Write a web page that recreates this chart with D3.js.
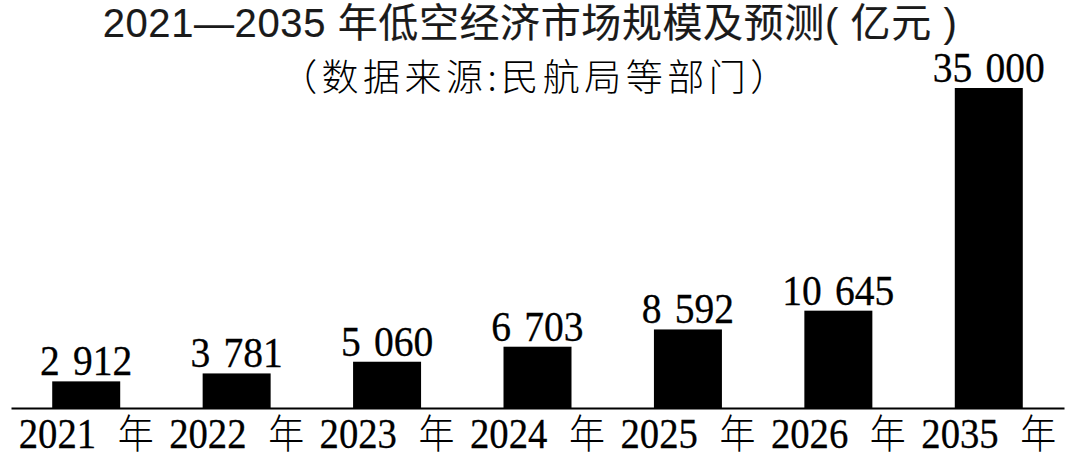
<!DOCTYPE html>
<html>
<head>
<meta charset="utf-8">
<script src="https://cdn.jsdelivr.net/npm/d3@7"></script>
<style>
  html, body { margin: 0; padding: 0; background: #fff; }
</style>
</head>
<body>
<div id="chart"></div>
<script>
const years = ['2021', '2022', '2023', '2024', '2025', '2026', '2035'];
const values = [2912, 3781, 5060, 6703, 8592, 10645, 35000];
const yearSuffix = '年';
const title = '2021—2035 年低空经济市场规模及预测( 亿元 )';
const subtitle = '（数据来源:民航局等部门）';

const draw = () => {
  const data = years.map((year, i) => ({year: year, value: values[i]}));
  const width = 1080;
  const height = 459;
  const base = 408;
  const format = d3.formatLocale({decimal: '.', thousands: '\u2004', grouping: [3], currency: ['', '']}).format(',d');

  const svg = d3.select('#chart')
    .append('svg')
    .attr('width', width)
    .attr('height', height)
    .style('display', 'block')
    .style('background', '#fff');

  const x = d3.scaleBand()
    .domain(years)
    .range([11, 1064])
    .paddingInner(0.548)
    .paddingOuter(0.274);
  const y = d3.scaleLinear()
    .domain([0, 35000])
    .range([base, 88]);

  svg.append('text')
    .attr('x', 530)
    .attr('y', 37)
    .attr('text-anchor', 'middle')
    .attr('font-family', '"Liberation Sans", "Noto Sans CJK SC", sans-serif')
    .attr('font-size', 40)
    .attr('letter-spacing', 0.6)
    .attr('fill', '#1a1a1a')
    .attr('stroke', '#1a1a1a')
    .attr('stroke-width', 0.15)
    .text(title);

  svg.append('text')
    .attr('x', 536)
    .attr('y', 91)
    .attr('text-anchor', 'middle')
    .attr('font-family', '"Noto Sans CJK SC", sans-serif')
    .attr('font-weight', 300)
    .attr('font-size', 37)
    .attr('letter-spacing', 4.5)
    .attr('fill', '#000')
    .text(subtitle);

  svg.selectAll('.bar')
    .data(data)
    .join('rect')
    .attr('class', 'bar')
    .attr('x', d => x(d.year))
    .attr('y', d => y(d.value))
    .attr('width', x.bandwidth())
    .attr('height', d => y(0) - y(d.value))
    .attr('fill', '#000');

  svg.selectAll('.label')
    .data(data)
    .join('text')
    .attr('class', 'label')
    .attr('transform', d => `translate(${x(d.year) + x.bandwidth() / 2}, ${y(d.value) - 6}) scale(0.92, 1)`)
    .attr('text-anchor', 'middle')
    .attr('font-family', '"Liberation Serif", serif')
    .attr('font-size', 43)
    .attr('fill', '#000')
    .attr('stroke', '#000')
    .attr('stroke-width', 0.3)
    .text(d => format(d.value));

  const xAxis = g => g
    .call(d3.axisBottom(x).tickSize(0).tickPadding(40))
    .call(g => g.select('.domain').attr('stroke', '#000').attr('stroke-width', 2))
    .call(g => g.selectAll('.tick text')
      .attr('dy', null)
      .attr('transform', 'scale(0.9, 1)')
      .attr('font-family', '"Liberation Serif", "Noto Sans CJK SC", serif')
      .attr('font-size', 43)
      .attr('fill', '#000')
      .attr('stroke', '#000')
      .attr('stroke-width', 0.3)
      .text(null)
      .call(t => t.append('tspan').text(d => d))
      .call(t => t.append('tspan')
        .attr('dx', 24)
        .attr('font-family', '"Noto Sans CJK SC", sans-serif')
        .attr('font-weight', 300)
        .attr('font-size', 40)
        .attr('stroke-width', 0)
        .text(yearSuffix)));

  svg.append('g')
    .attr('class', 'axis')
    .attr('transform', `translate(0, ${base})`)
    .call(xAxis);
}

draw();
</script>
</body>
</html>
